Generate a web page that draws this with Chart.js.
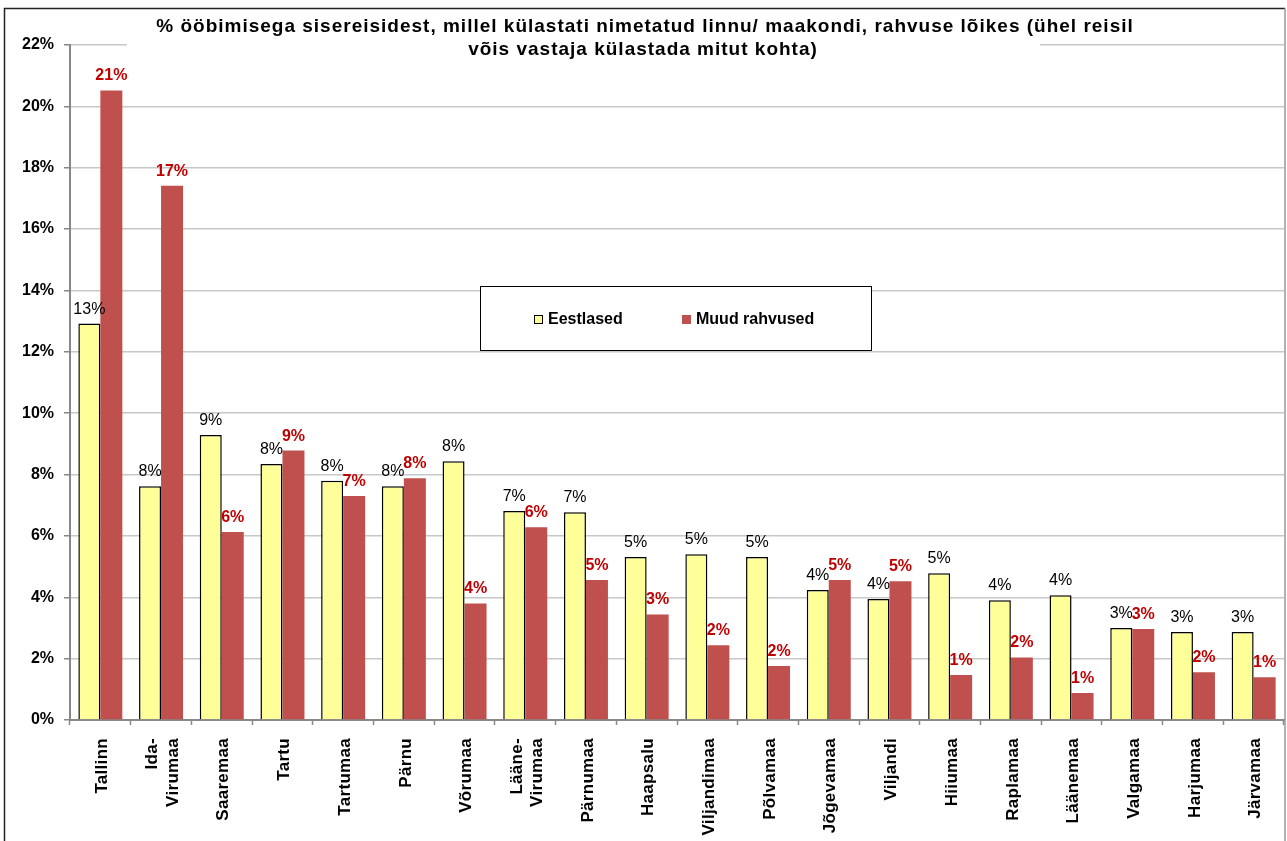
<!DOCTYPE html>
<html>
<head>
<meta charset="utf-8">
<script src="https://cdn.jsdelivr.net/npm/chart.js@4.4.1/dist/chart.umd.min.js"></script>
<style>
  html, body { margin: 0; padding: 0; background: #fff; }
  #wrap { position: relative; width: 1287px; height: 841px; }
</style>
</head>
<body>
<div id="wrap"><canvas id="chart" width="1287" height="841"></canvas></div>
<script>
// chart data
var titleLines = [
    '% ööbimisega sisereisidest, millel külastati nimetatud linnu/ maakondi, rahvuse lõikes (ühel reisil',
    'võis vastaja külastada mitut kohta)'
];
var places = ['Tallinn', ['Ida-', 'Virumaa'], 'Saaremaa', 'Tartu', 'Tartumaa', 'Pärnu', 'Võrumaa',
    ['Lääne-', 'Virumaa'], 'Pärnumaa', 'Haapsalu', 'Viljandimaa', 'Põlvamaa', 'Jõgevamaa', 'Viljandi',
    'Hiiumaa', 'Raplamaa', 'Läänemaa', 'Valgamaa', 'Harjumaa', 'Järvamaa'];
var eestlased = [12.92, 7.62, 9.29, 8.34, 7.80, 7.62, 8.43, 6.81, 6.77, 5.31,
    5.40, 5.31, 4.24, 3.94, 4.78, 3.90, 4.07, 3.00, 2.87, 2.87];
var muudRahvused = [20.52, 17.41, 6.13, 8.78, 7.30, 7.88, 3.80, 6.28, 4.56, 3.44,
    2.44, 1.76, 4.56, 4.52, 1.47, 2.04, 0.88, 2.97, 1.56, 1.39];
var seriesNames = ['Eestlased', 'Muud rahvused'];

const FONT = '"Liberation Sans", Arial, sans-serif';

// frame, title box and legend box drawn on top of the grid
const decor = {
    id: 'decor',
    afterDraw(chart) {
        const ctx = chart.ctx;
        ctx.save();
        // outer frame
        ctx.lineWidth = 1.5;
        ctx.strokeStyle = '#222';
        ctx.beginPath();
        ctx.moveTo(4.5, 845); ctx.lineTo(4.5, 8.5); ctx.lineTo(1285, 8.5);
        ctx.stroke();
        ctx.strokeStyle = '#999';
        ctx.beginPath();
        ctx.moveTo(1285, 8.5); ctx.lineTo(1285, 845);
        ctx.stroke();

        // title
        ctx.fillStyle = '#fff';
        ctx.fillRect(127, 12, 913, 50);
        ctx.fillStyle = '#000';
        ctx.font = 'bold 19px ' + FONT;
        ctx.letterSpacing = '1px';
        ctx.textAlign = 'center';
        ctx.textBaseline = 'middle';
        ctx.fillText(titleLines[0], 645, 27);
        ctx.fillText(titleLines[1], 643, 50);
        ctx.letterSpacing = '0px';

        // legend
        ctx.fillStyle = '#fff';
        ctx.fillRect(480.5, 286.5, 391, 64);
        ctx.strokeStyle = '#000';
        ctx.lineWidth = 1;
        ctx.strokeRect(480.5, 286.5, 391, 64);
        const xs = [534, 682];
        chart.data.datasets.forEach((ds, i) => {
            ctx.fillStyle = ds.backgroundColor;
            ctx.fillRect(xs[i], 315, 9, 9);
            if (ds.borderWidth) {
                ctx.strokeStyle = '#000';
                ctx.strokeRect(xs[i] + 0.5, 315.5, 8, 8);
            }
            ctx.fillStyle = '#000';
            ctx.font = 'bold 16px ' + FONT;
            ctx.textAlign = 'left';
            ctx.fillText(ds.label, xs[i] + 14, 320);
        });
        ctx.restore();
    }
};

// category names under the x axis, rotated, each block centred on its tick
const xLabels = {
    id: 'xLabels',
    afterDraw(chart) {
        const ctx = chart.ctx;
        const xs = chart.scales.x;
        ctx.save();
        ctx.fillStyle = '#000';
        ctx.font = 'bold 17px ' + FONT;
        ctx.letterSpacing = '0.3px';
        ctx.textAlign = 'right';
        ctx.textBaseline = 'middle';
        chart.data.labels.forEach((lab, i) => {
            const lines = Array.isArray(lab) ? lab : [lab];
            const cx = xs.getPixelForTick(i) + 2;
            const lh = 20.5;
            lines.forEach((t, k) => {
                const x = cx + (k - (lines.length - 1) / 2) * lh;
                ctx.save();
                ctx.translate(x, xs.top + 18);
                ctx.rotate(-Math.PI / 2);
                ctx.fillText(t, 0, 0);
                ctx.restore();
            });
        });
        ctx.restore();
    }
};

// percentage labels above bars
const valueLabels = {
    id: 'valueLabels',
    afterDatasetsDraw(chart) {
        const ctx = chart.ctx;
        ctx.save();
        ctx.textAlign = 'center';
        ctx.textBaseline = 'alphabetic';
        chart.data.datasets.forEach((ds, i) => {
            const meta = chart.getDatasetMeta(i);
            ctx.fillStyle = i === 0 ? '#000' : '#c00000';
            ctx.font = (i === 0 ? '' : 'bold ') + '16px ' + FONT;
            meta.data.forEach((bar, j) => {
                ctx.fillText(Math.round(ds.data[j]) + '%', bar.x, bar.y - 10);
            });
        });
        ctx.restore();
    }
};

new Chart('chart', {
    type: 'bar',
    data: {
        labels: places,
        datasets: [{
            label: seriesNames[0],
            data: eestlased,
            backgroundColor: '#ffff99',
            borderColor: '#000',
            borderWidth: 1.5
        }, {
            label: seriesNames[1],
            data: muudRahvused,
            backgroundColor: '#c0504d',
            borderWidth: 0
        }]
    },
    options: {
        responsive: false,
        animation: false,
        categoryPercentage: 0.725,
        barPercentage: 1,
        layout: { padding: { top: 45, right: 3, left: 0, bottom: 0 } },
        plugins: {
            legend: { display: false },
            title: { display: false },
            tooltip: { enabled: false }
        },
        scales: {
            x: {
                grid: { offset: true, drawOnChartArea: false, tickLength: 5, tickColor: '#888', tickWidth: 1.5 },
                border: { color: '#888', width: 2 },
                ticks: { display: false, autoSkip: false },
                afterFit: s => { s.height = 121; }
            },
            y: {
                min: 0, max: 22,
                ticks: {
                    stepSize: 2, color: '#000', padding: 10,
                    font: { family: FONT, size: 16, weight: 'bold' },
                    callback: v => v + '%'
                },
                grid: { color: '#c8c8c8', lineWidth: 1.5, tickLength: 6, tickColor: '#888' },
                border: { color: '#888', width: 2 },
                afterFit: s => { s.width = 70; }
            }
        }
    },
    plugins: [valueLabels, xLabels, decor]
});
</script>
</body>
</html>
